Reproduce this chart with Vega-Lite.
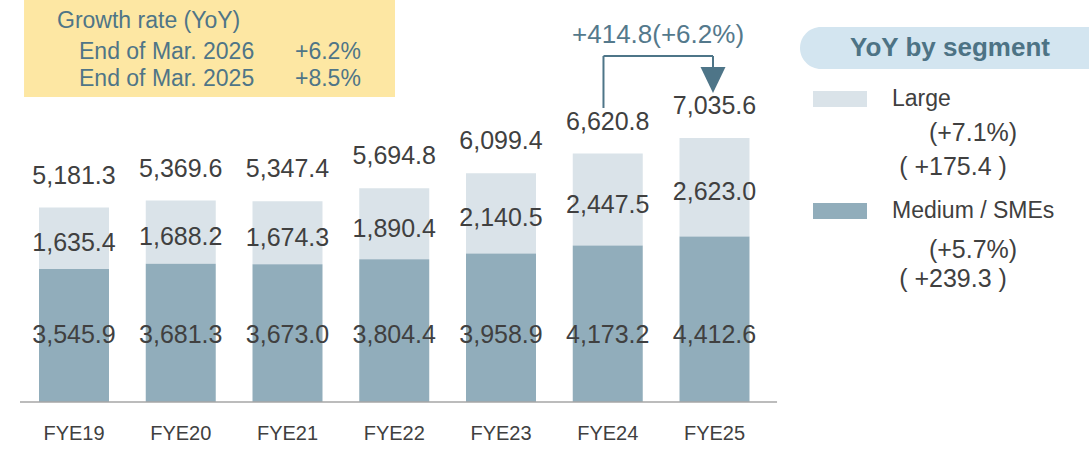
{
  "$schema": "https://vega.github.io/schema/vega-lite/v6.json",
  "width": 1089,
  "height": 402,
  "autosize": {"type": "none"},
  "padding": {"left": 0, "top": 0, "right": 0, "bottom": 53},
  "background": "white",
  "config": {
    "view": {"stroke": null},
    "font": "Liberation Sans",
    "text": {"font": "Liberation Sans"}
  },
  "data": {"values": [{}]},
  "datasets": {
    "bars": [
      {"fy": "FYE19", "yr": 19, "segment": "Large", "value": 1635.4},
      {"fy": "FYE19", "yr": 19, "segment": "Medium / SMEs", "value": 3545.9},
      {"fy": "FYE20", "yr": 20, "segment": "Large", "value": 1688.2},
      {"fy": "FYE20", "yr": 20, "segment": "Medium / SMEs", "value": 3681.3},
      {"fy": "FYE21", "yr": 21, "segment": "Large", "value": 1674.3},
      {"fy": "FYE21", "yr": 21, "segment": "Medium / SMEs", "value": 3673.0},
      {"fy": "FYE22", "yr": 22, "segment": "Large", "value": 1890.4},
      {"fy": "FYE22", "yr": 22, "segment": "Medium / SMEs", "value": 3804.4},
      {"fy": "FYE23", "yr": 23, "segment": "Large", "value": 2140.5},
      {"fy": "FYE23", "yr": 23, "segment": "Medium / SMEs", "value": 3958.9},
      {"fy": "FYE24", "yr": 24, "segment": "Large", "value": 2447.5},
      {"fy": "FYE24", "yr": 24, "segment": "Medium / SMEs", "value": 4173.2},
      {"fy": "FYE25", "yr": 25, "segment": "Large", "value": 2623.0},
      {"fy": "FYE25", "yr": 25, "segment": "Medium / SMEs", "value": 4412.6}
    ],
    "totals": [
      {"fy": "FYE19", "yr": 19, "total": 5181.3},
      {"fy": "FYE20", "yr": 20, "total": 5369.6},
      {"fy": "FYE21", "yr": 21, "total": 5347.4},
      {"fy": "FYE22", "yr": 22, "total": 5694.8},
      {"fy": "FYE23", "yr": 23, "total": 6099.4},
      {"fy": "FYE24", "yr": 24, "total": 6620.8},
      {"fy": "FYE25", "yr": 25, "total": 7035.6}
    ]
  },
  "layer": [
    {
      "mark": {"type": "rect", "color": "#fde7a3"},
      "encoding": {
        "x": {"datum": 18.532, "type": "quantitative", "scale": {"domain": [18.3068, 28.5082], "nice": false, "zero": false, "padding": 0}, "axis": null},
        "x2": {"datum": 22.007},
        "y": {"datum": 8129, "type": "quantitative", "scale": {"domain": [0, 10714], "nice": false, "zero": true, "padding": 0}, "axis": null},
        "y2": {"datum": 10800}
      }
    },
    {
      "mark": {"type": "rect", "color": "#d3e5f0", "cornerRadius": 21},
      "encoding": {
        "x": {"datum": 25.801, "type": "quantitative", "axis": null},
        "x2": {"datum": 29.0},
        "y": {"datum": 8875, "type": "quantitative", "axis": null},
        "y2": {"datum": 9994}
      }
    },
    {
      "data": {"name": "bars"},
      "mark": {"type": "bar", "width": 70},
      "encoding": {
        "x": {"field": "yr", "type": "quantitative", "axis": null},
        "y": {"field": "value", "type": "quantitative", "stack": "zero", "axis": null},
        "color": {
          "field": "segment", "type": "nominal",
          "scale": {"domain": ["Large", "Medium / SMEs"], "range": ["#dae3e9", "#91adbb"]},
          "legend": {
            "orient": "none", "legendX": 813, "legendY": 72, "title": null,
            "padding": 0,
            "symbolType": "M-1,-0.296H1V0.296H-1Z",
            "symbolSize": 2916, "symbolStrokeWidth": 0, "symbolOpacity": 1,
            "labelFont": "Liberation Sans", "labelFontSize": 23, "labelColor": "#404040",
            "labelOffset": 25, "rowPadding": 73, "labelLimit": 300
          }
        },
        "order": {"field": "segment", "sort": "descending"}
      }
    },
    {
      "data": {"name": "bars"},
      "transform": [
        {"stack": "value", "groupby": ["yr"], "sort": [{"field": "segment", "order": "descending"}], "as": ["v0", "v1"]},
        {"filter": "datum.segment === 'Large'"},
        {"fold": ["v0", "v1"], "as": ["edge", "pos"]},
        {"aggregate": [{"op": "mean", "field": "pos", "as": "mid"}], "groupby": ["yr", "value"]}
      ],
      "mark": {"type": "text", "fontSize": 25, "color": "#404040", "baseline": "middle", "align": "center", "dy": 5},
      "encoding": {
        "x": {"field": "yr", "type": "quantitative", "axis": null},
        "y": {"field": "mid", "type": "quantitative", "axis": null},
        "text": {"field": "value", "type": "quantitative", "format": ",.1f"}
      }
    },
    {
      "data": {"name": "bars"},
      "transform": [{"filter": "datum.segment === 'Medium / SMEs'"}],
      "mark": {"type": "text", "fontSize": 25, "color": "#404040", "baseline": "middle", "align": "center"},
      "encoding": {
        "x": {"field": "yr", "type": "quantitative", "axis": null},
        "y": {"datum": 1780, "type": "quantitative", "axis": null},
        "text": {"field": "value", "type": "quantitative", "format": ",.1f"}
      }
    },
    {
      "data": {"name": "totals"},
      "mark": {"type": "text", "fontSize": 25, "color": "#404040", "baseline": "middle", "align": "center", "dy": -32},
      "encoding": {
        "x": {"field": "yr", "type": "quantitative", "axis": null},
        "y": {"field": "total", "type": "quantitative", "axis": null},
        "text": {"field": "total", "type": "quantitative", "format": ",.1f"}
      }
    },
    {
      "data": {"name": "totals"},
      "mark": {"type": "text", "fontSize": 20, "color": "#404040", "baseline": "middle", "align": "center", "dy": 31.5},
      "encoding": {
        "x": {"field": "yr", "type": "quantitative", "axis": null},
        "y": {"datum": 0, "type": "quantitative", "axis": null},
        "text": {"field": "fy", "type": "nominal"}
      }
    },
    {
      "mark": {"type": "rule", "color": "#a6a6a6", "strokeWidth": 1.5},
      "encoding": {
        "x": {"datum": 18.494, "type": "quantitative", "axis": null},
        "x2": {"datum": 25.586},
        "y": {"datum": 0, "type": "quantitative", "axis": null}
      }
    },
    {
      "mark": {"type": "rule", "color": "#4e7588", "strokeWidth": 2},
      "encoding": {
        "x": {"datum": 23.96, "type": "quantitative", "axis": null},
        "y": {"datum": 7836, "type": "quantitative", "axis": null},
        "y2": {"datum": 9222}
      }
    },
    {
      "mark": {"type": "rule", "color": "#4e7588", "strokeWidth": 2},
      "encoding": {
        "x": {"datum": 23.96, "type": "quantitative", "axis": null},
        "x2": {"datum": 24.986},
        "y": {"datum": 9222, "type": "quantitative", "axis": null}
      }
    },
    {
      "mark": {"type": "rule", "color": "#4e7588", "strokeWidth": 2},
      "encoding": {
        "x": {"datum": 24.986, "type": "quantitative", "axis": null},
        "y": {"datum": 8880, "type": "quantitative", "axis": null},
        "y2": {"datum": 9222}
      }
    },
    {
      "mark": {"type": "point", "shape": "M-0.96,-1L0.96,-1L0,1Z", "size": 676, "filled": true, "color": "#4e7588", "opacity": 1},
      "encoding": {
        "x": {"datum": 24.986, "type": "quantitative", "axis": null},
        "y": {"datum": 8582, "type": "quantitative", "axis": null}
      }
    },
    {
      "mark": {"type": "text", "text": "+414.8(+6.2%)", "fontSize": 26, "color": "#54798c", "align": "center", "baseline": "middle"},
      "encoding": {
        "x": {"datum": 24.471, "type": "quantitative", "axis": null},
        "y": {"datum": 9781, "type": "quantitative", "axis": null}
      }
    },
    {
      "mark": {"type": "text", "text": "Growth rate (YoY)", "fontSize": 23, "color": "#4f7587", "align": "left", "baseline": "middle"},
      "encoding": {
        "x": {"datum": 18.841, "type": "quantitative", "axis": null},
        "y": {"datum": 10154, "type": "quantitative", "axis": null}
      }
    },
    {
      "mark": {"type": "text", "text": "End of Mar. 2026", "fontSize": 23, "color": "#4f7587", "align": "left", "baseline": "middle"},
      "encoding": {
        "x": {"datum": 19.047, "type": "quantitative", "axis": null},
        "y": {"datum": 9328, "type": "quantitative", "axis": null}
      }
    },
    {
      "mark": {"type": "text", "text": "+6.2%", "fontSize": 23, "color": "#4f7587", "align": "left", "baseline": "middle"},
      "encoding": {
        "x": {"datum": 21.07, "type": "quantitative", "axis": null},
        "y": {"datum": 9328, "type": "quantitative", "axis": null}
      }
    },
    {
      "mark": {"type": "text", "text": "End of Mar. 2025", "fontSize": 23, "color": "#4f7587", "align": "left", "baseline": "middle"},
      "encoding": {
        "x": {"datum": 19.047, "type": "quantitative", "axis": null},
        "y": {"datum": 8609, "type": "quantitative", "axis": null}
      }
    },
    {
      "mark": {"type": "text", "text": "+8.5%", "fontSize": 23, "color": "#4f7587", "align": "left", "baseline": "middle"},
      "encoding": {
        "x": {"datum": 21.07, "type": "quantitative", "axis": null},
        "y": {"datum": 8609, "type": "quantitative", "axis": null}
      }
    },
    {
      "mark": {"type": "text", "text": "YoY by segment", "fontSize": 26, "fontWeight": "bold", "color": "#4d7385", "align": "center", "baseline": "middle"},
      "encoding": {
        "x": {"datum": 27.206, "type": "quantitative", "axis": null},
        "y": {"datum": 9435, "type": "quantitative", "axis": null}
      }
    },
    {
      "mark": {"type": "text", "text": "(+7.1%)", "fontSize": 25, "color": "#404040", "align": "center", "baseline": "middle"},
      "encoding": {
        "x": {"datum": 27.4216, "type": "quantitative", "axis": null},
        "y": {"datum": 7169, "type": "quantitative", "axis": null}
      }
    },
    {
      "mark": {"type": "text", "text": "( +175.4 )", "fontSize": 25, "color": "#404040", "align": "center", "baseline": "middle"},
      "encoding": {
        "x": {"datum": 27.234, "type": "quantitative", "axis": null},
        "y": {"datum": 6263, "type": "quantitative", "axis": null}
      }
    },
    {
      "mark": {"type": "text", "text": "(+5.7%)", "fontSize": 25, "color": "#404040", "align": "center", "baseline": "middle"},
      "encoding": {
        "x": {"datum": 27.4216, "type": "quantitative", "axis": null},
        "y": {"datum": 4051, "type": "quantitative", "axis": null}
      }
    },
    {
      "mark": {"type": "text", "text": "( +239.3 )", "fontSize": 25, "color": "#404040", "align": "center", "baseline": "middle"},
      "encoding": {
        "x": {"datum": 27.234, "type": "quantitative", "axis": null},
        "y": {"datum": 3278, "type": "quantitative", "axis": null}
      }
    }
  ]
}
